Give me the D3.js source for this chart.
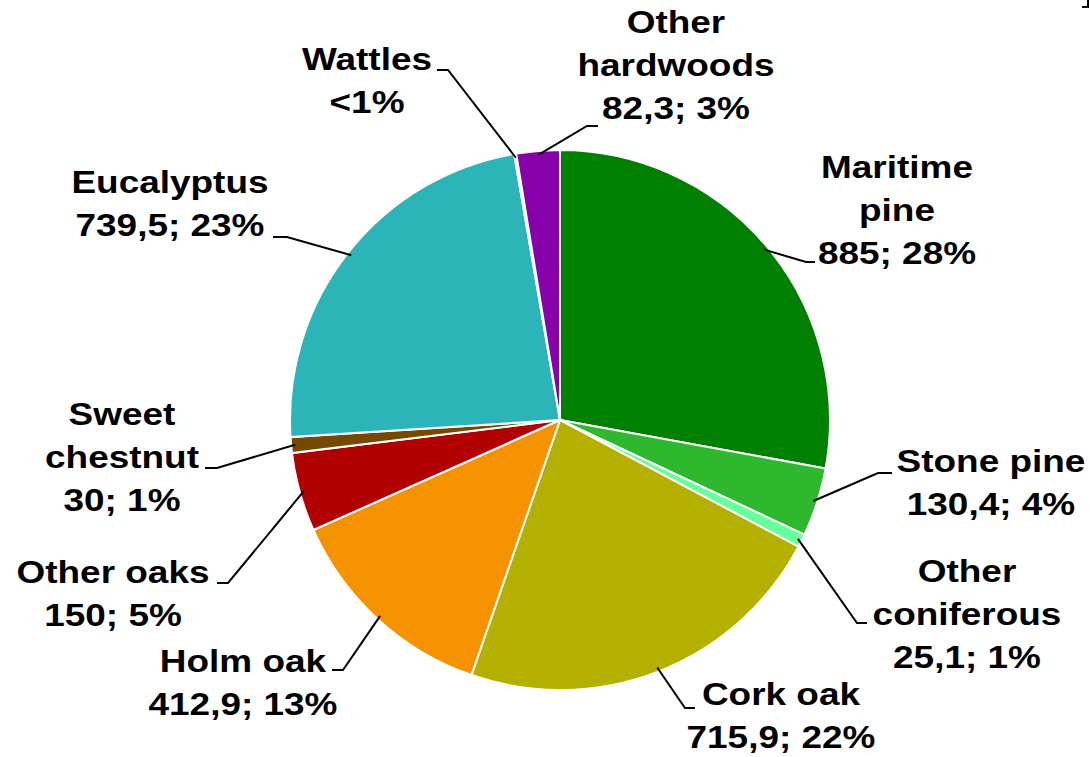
<!DOCTYPE html>
<html>
<head>
<meta charset="utf-8">
<script src="https://cdn.jsdelivr.net/npm/d3@7"></script>
<style>
  body { margin: 0; background: #fff; }
  svg { display: block; }
  text { font-family: "Liberation Sans", Arial, sans-serif; font-weight: bold; }
</style>
</head>
<body>
<div id="chart"></div>
<script>
// Species, area values (thousand ha) and the label text shown beside each slice
const species = ["Maritime pine", "Stone pine", "Other coniferous", "Cork oak", "Holm oak",
  "Other oaks", "Sweet chestnut", "Eucalyptus", "Wattles", "Other hardwoods"];
const areas = [885, 130.4, 25.1, 715.9, 412.9, 150, 30, 739.5, 4, 82.3];
const labelLines = [
  ["Maritime", "pine", "885; 28%"],
  ["Stone pine", "130,4; 4%"],
  ["Other", "coniferous", "25,1; 1%"],
  ["Cork oak", "715,9; 22%"],
  ["Holm oak", "412,9; 13%"],
  ["Other oaks", "150; 5%"],
  ["Sweet", "chestnut", "30; 1%"],
  ["Eucalyptus", "739,5; 23%"],
  ["Wattles", "<1%"],
  ["Other", "hardwoods", "82,3; 3%"]
];
const colors = ["#008000", "#2eb82e", "#66ff99", "#b3b000", "#f59200",
  "#b00000", "#734a00", "#2cb5b9", "#ffffff", "#8800aa"];

// Layout: label text anchor (x, first baseline) and leader elbow / end points
const labelPos = [
  { x: 897, y: 178, elbow: [806, 262], end: [815, 262] },
  { x: 991, y: 472, elbow: [878, 473], end: [892, 473] },
  { x: 967, y: 582, elbow: [857, 623], end: [867, 623] },
  { x: 781, y: 705, elbow: [685, 708], end: [695, 708] },
  { x: 243, y: 672, elbow: [343, 670], end: [332, 670] },
  { x: 113, y: 583, elbow: [228, 583], end: [217, 583] },
  { x: 122, y: 425, elbow: [217, 468], end: [205, 468] },
  { x: 170, y: 193, elbow: [287, 237], end: [273, 237] },
  { x: 367, y: 70, elbow: [448, 70], end: [437, 70] },
  { x: 676, y: 33, elbow: [587, 126], end: [598, 126] }
];

const width = 1090, height = 757;
const cx = 560, cy = 420, radius = 270;
const lineHeight = 43;
const stretch = 1.155; // reference lettering is wider than Liberation Sans

const svg = d3.select("#chart").append("svg")
  .attr("width", width)
  .attr("height", height);

const data = species.map((name, i) => ({ name, value: areas[i], i }));

const pie = d3.pie().sort(null).value(d => d.value);
const arcs = pie(data);

const arc = d3.arc().innerRadius(0).outerRadius(radius);

const g = svg.append("g").attr("transform", `translate(${cx},${cy})`);

g.selectAll("path.slice")
  .data(arcs)
  .join("path")
  .attr("class", "slice")
  .attr("d", arc)
  .attr("fill", d => colors[d.data.i])
  .attr("stroke", "#fff")
  .attr("stroke-width", 2);

// Leader lines: from slice edge at mid-angle to the elbow, then a short horizontal tick
const edgeArc = d3.arc().innerRadius(radius * 0.985).outerRadius(radius * 0.985);
svg.selectAll("polyline.leader")
  .data(arcs)
  .join("polyline")
  .attr("class", "leader")
  .attr("points", d => {
    const p = edgeArc.centroid(d);
    const lp = labelPos[d.data.i];
    return [[p[0] + cx, p[1] + cy], lp.elbow, lp.end].map(q => q.join(",")).join(" ");
  })
  .attr("fill", "none")
  .attr("stroke", "#000")
  .attr("stroke-width", 2);

// Labels
const labels = svg.selectAll("text.label")
  .data(arcs)
  .join("text")
  .attr("class", "label")
  .attr("text-anchor", "middle")
  .attr("font-size", 32)
  .attr("fill", "#000")
  .attr("transform", d => {
    const x = labelPos[d.data.i].x;
    return `translate(${x},0) scale(${stretch},1) translate(${-x},0)`;
  });

labels.each(function (d) {
  const lp = labelPos[d.data.i];
  d3.select(this).selectAll("tspan")
    .data(labelLines[d.data.i])
    .join("tspan")
    .attr("x", lp.x)
    .attr("y", (t, k) => lp.y + k * lineHeight)
    .text(t => t);
});

// Small frame corner at the top right edge
svg.append("path")
  .attr("d", "M1082,7H1088V0")
  .attr("fill", "none")
  .attr("stroke", "#000")
  .attr("stroke-width", 2);
</script>
</body>
</html>
